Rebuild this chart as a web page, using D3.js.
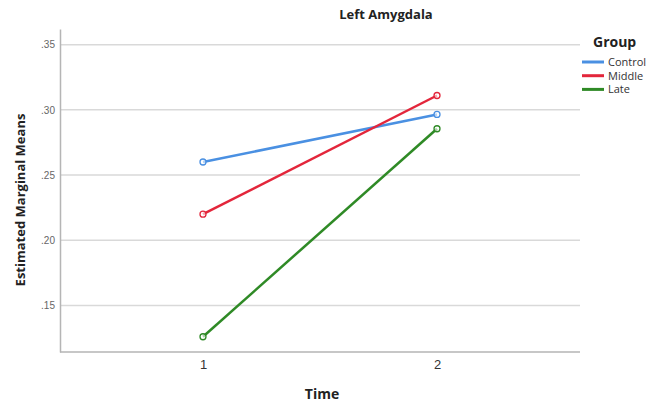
<!DOCTYPE html>
<html><head><meta charset="utf-8">
<script src="https://cdn.jsdelivr.net/npm/d3@7"></script>
<style>body{margin:0;background:#fff}svg{display:block;font-family:"Open Sans","DejaVu Sans",sans-serif}</style>
</head><body><svg id="c" width="652" height="406"></svg>
<script>
const times = ["1", "2"];
const groups = ["Control", "Middle", "Late"];
const colors = ["#4a90e2", "#e3263b", "#2f8a26"];
const controlValues = [0.260, 0.2965];
const middleValues = [0.220, 0.311];
const lateValues = [0.126, 0.2855];
const yTicks = [0.15, 0.20, 0.25, 0.30, 0.35];
const seriesValues = [controlValues, middleValues, lateValues];

const svg = d3.select("#c");
const mLeft = 60, mRight = 580, mTop = 29, mBottom = 352;
const x = d3.scalePoint().domain(times).range([mLeft, mRight]).padding(0.611);
const y = d3.scaleLinear().domain([0.1143, 0.362]).range([mBottom, mTop]);

// gridlines
svg.append("g").selectAll("line").data(yTicks).join("line")
  .attr("x1", mLeft).attr("x2", mRight)
  .attr("y1", d => y(d)).attr("y2", d => y(d))
  .attr("stroke", "#d9d9d9").attr("stroke-width", 1.5);

// axes
const yAxis = svg.append("g").attr("transform", `translate(${mLeft},0)`)
  .call(d3.axisLeft(y).tickValues(yTicks).tickSize(0).tickPadding(5).tickFormat(d => d3.format(".2f")(d).replace(/^0/, "")));
yAxis.select(".domain").attr("stroke", "#b5b5b5").attr("stroke-width", 1.5);
yAxis.selectAll("text").attr("fill", "#666").style("font-size", "10px");

const xAxis = svg.append("g").attr("transform", `translate(0,${mBottom})`)
  .call(d3.axisBottom(x).tickSize(0).tickPadding(8));
xAxis.select(".domain").attr("stroke", "#b5b5b5").attr("stroke-width", 1.5).attr("d", `M${mLeft},0H${mRight}`);
xAxis.selectAll("text").attr("fill", "#333").style("font-size", "13px");

// lines
const line = d3.line().x((d, i) => x(times[i])).y(d => y(d));
seriesValues.forEach((vals, k) => {
  svg.append("path").datum(vals).attr("d", line)
    .attr("fill", "none").attr("stroke", colors[k]).attr("stroke-width", 2.5);
  svg.append("g").selectAll("circle").data(vals).join("circle")
    .attr("cx", (d, i) => x(times[i])).attr("cy", d => y(d)).attr("r", 3)
    .attr("fill", "#fff").attr("fill-opacity", 0.6).attr("stroke", colors[k]).attr("stroke-width", 1.3);
});

// title & labels
svg.append("text").attr("x", 386).attr("y", 19).attr("text-anchor", "middle")
  .style("font-size", "13px").style("font-weight", "bold").attr("fill", "#222").text("Left Amygdala");
svg.append("text").attr("x", 322).attr("y", 399).attr("text-anchor", "middle")
  .style("font-size", "14px").style("font-weight", "bold").attr("fill", "#222").text("Time");
svg.append("text").attr("transform", "translate(25,200) rotate(-90)").attr("text-anchor", "middle")
  .style("font-size", "13px").style("font-weight", "bold").attr("fill", "#222").text("Estimated Marginal Means");

// legend
svg.append("text").attr("x", 593).attr("y", 47)
  .style("font-size", "14px").style("font-weight", "bold").attr("fill", "#222").text("Group");
const lg = svg.append("g").selectAll("g").data(groups).join("g")
  .attr("transform", (d, i) => `translate(582,${62 + i * 13.7})`);
lg.append("line").attr("x1", 0).attr("x2", 22).attr("stroke", (d, i) => colors[i]).attr("stroke-width", 3);
lg.append("text").attr("x", 26).attr("y", 4).style("font-size", "11px").attr("fill", "#333").text(d => d);
</script></body></html>
